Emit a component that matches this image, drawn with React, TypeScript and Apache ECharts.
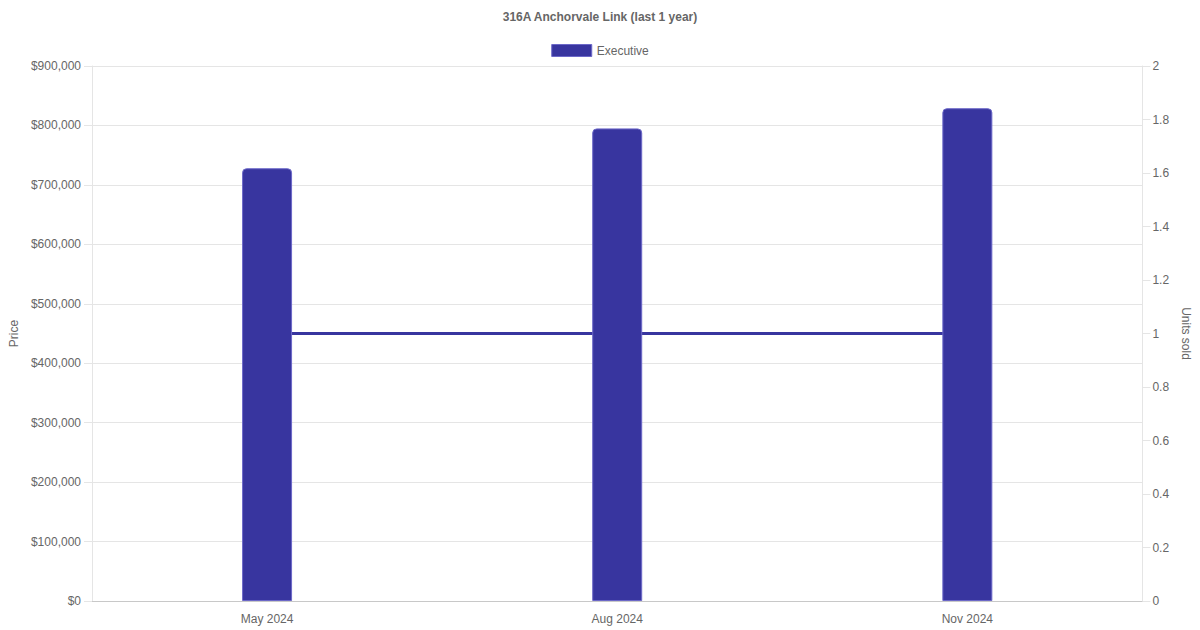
import React, { useEffect, useRef } from "react";
import * as echarts from "echarts";

const categories = ["May 2024", "Aug 2024", "Nov 2024"];
const priceValues = [728000, 795000, 829000];
const unitsSold = [1, 1, 1];
const titleText = "316A Anchorvale Link (last 1 year)";
const barName = "Executive";
const lineName = "Units sold";

const FONT = "'Liberation Sans', Arial, Helvetica, sans-serif";
const TXT = "#666666";
const GRID = "#e5e5e5";
const BAR = "#38359f";

export default function App() {
  const ref = useRef<HTMLDivElement>(null);
  useEffect(() => {
    if (!ref.current) return;
    const chart = echarts.init(ref.current, undefined, { renderer: "svg" });
    chart.setOption({
      animation: false,
      textStyle: { fontFamily: FONT, color: TXT },
      title: {
        text: titleText,
        left: "center",
        top: 6,
        textStyle: { fontFamily: FONT, fontSize: 12, fontWeight: "bold", color: TXT },
      },
      legend: {
        data: [{ name: barName, icon: "rect" }],
        top: 39,
        left: "center",
        itemWidth: 40,
        itemHeight: 12,
        itemGap: 10,
        textStyle: { fontFamily: FONT, fontSize: 12, color: TXT },
        itemStyle: { color: BAR, borderColor: "#6c68c8", borderWidth: 1 },
      },
      grid: { left: 88, right: 53, top: 66, bottom: 29, containLabel: false },
      xAxis: {
        type: "category",
        data: categories,
        axisLine: { show: true, lineStyle: { color: "#c8c8c8", width: 1 } },
        axisTick: { show: false },
        axisLabel: { fontFamily: FONT, fontSize: 12, color: TXT, margin: 12 },
        splitLine: { show: false },
      },
      yAxis: [
        {
          type: "value",
          min: 0,
          max: 900000,
          interval: 100000,
          name: "Price",
          nameLocation: "middle",
          nameGap: 72,
          nameTextStyle: { fontFamily: FONT, fontSize: 12, color: TXT },
          axisLine: { show: true, lineStyle: { color: GRID } },
          axisTick: { show: true, length: 8, lineStyle: { color: GRID } },
          axisLabel: {
            fontFamily: FONT,
            fontSize: 12,
            color: TXT,
            margin: 11,
            formatter: (v: number) => "$" + v.toLocaleString("en-US"),
          },
          splitLine: { show: true, lineStyle: { color: GRID } },
        },
        {
          type: "value",
          min: 0,
          max: 2,
          interval: 0.2,
          position: "right",
          name: lineName,
          nameLocation: "middle",
          nameGap: 36,
          nameRotate: -90,
          nameTextStyle: { fontFamily: FONT, fontSize: 12, color: TXT },
          axisLine: { show: true, lineStyle: { color: GRID } },
          axisTick: { show: true, length: 8, lineStyle: { color: GRID } },
          axisLabel: {
            fontFamily: FONT,
            fontSize: 12,
            color: TXT,
            margin: 10,
            formatter: (v: number) => String(Math.round(v * 10) / 10),
          },
          splitLine: { show: false },
        },
      ],
      series: [
        {
          name: lineName,
          type: "line",
          yAxisIndex: 1,
          data: unitsSold,
          showSymbol: false,
          symbol: "none",
          z: 1,
          lineStyle: { color: BAR, width: 3 },
          itemStyle: { color: BAR },
        },
        {
          name: barName,
          type: "bar",
          yAxisIndex: 0,
          data: priceValues,
          barWidth: 50,
          z: 3,
          itemStyle: {
            color: BAR,
            borderColor: "#6c68c8",
            borderWidth: 1,
            borderRadius: [4, 4, 0, 0],
          },
        },
      ],
    });
    return () => chart.dispose();
  }, []);
  return <div ref={ref} style={{ width: 1200, height: 630, position: "absolute", left: 0, top: 0 }} />;
}
